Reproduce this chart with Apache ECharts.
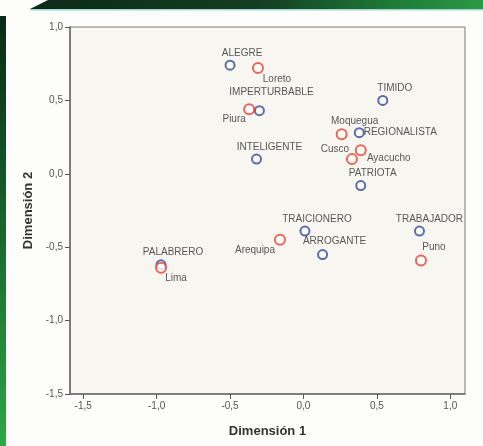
<!DOCTYPE html>
<html>
<head>
<meta charset="utf-8">
<script src="https://cdn.jsdelivr.net/npm/echarts@6/dist/echarts.min.js"></script>
<style>
html,body{margin:0;padding:0;background:#fdfdfb;}
#chart{width:483px;height:446px;}
</style>
</head>
<body>
<div id="chart"></div>
<script>
// Attribute points (blue)
var attrNames = ['ALEGRE','IMPERTURBABLE','INTELIGENTE','TIMIDO','REGIONALISTA','PATRIOTA','TRAICIONERO','ARROGANTE','TRABAJADOR','PALABRERO'];
var attrDim1  = [-0.50, -0.30, -0.32, 0.54, 0.38, 0.39, 0.01, 0.13, 0.79, -0.97];
var attrDim2  = [ 0.74,  0.43,  0.10, 0.50, 0.28, -0.08, -0.39, -0.55, -0.39, -0.62];

// Region points (red)
var regionNames = ['Loreto','Piura','Moquegua','Ayacucho','Cusco','Arequipa','Puno','Lima'];
var regionDim1  = [-0.31, -0.37, 0.26, 0.39, 0.33, -0.16, 0.80, -0.97];
var regionDim2  = [ 0.72,  0.44, 0.27, 0.16, 0.10, -0.45, -0.59, -0.64];

// Tick labels
var tickValues = [-1.5, -1.0, -0.5, 0.0, 0.5, 1.0];

// Label placement (text centre offset from marker, px) - layout only
var labelOffsets = {
  'ALEGRE':[12,-12], 'IMPERTURBABLE':[12,-18], 'INTELIGENTE':[13,-12], 'TIMIDO':[12,-12],
  'REGIONALISTA':[41,0], 'PATRIOTA':[12,-12], 'TRAICIONERO':[12,-12], 'ARROGANTE':[12,-13],
  'TRABAJADOR':[10,-12], 'PALABRERO':[12,-13],
  'Loreto':[19,11], 'Piura':[-15,10], 'Moquegua':[13,-13], 'Ayacucho':[28,8],
  'Cusco':[-17,-10], 'Arequipa':[-25,10], 'Puno':[13,-13], 'Lima':[15,10]
};

function fmt(v){ return v.toFixed(1).replace('.', ','); }

function buildData(names, xs, ys){
  return names.map(function(n, i){
    return {name:n, value:[xs[i], ys[i]], label:{offset:labelOffsets[n]}};
  });
}

var labelStyle = {show:true, position:'inside', formatter:'{b}', color:'#2e2e2e',
  fontFamily:'Liberation Sans, Arial, sans-serif', fontSize:10};

var chart = echarts.init(document.getElementById('chart'), null, {renderer:'canvas'});
chart.setOption({
  animation:false,
  backgroundColor:'#fdfdfb',
  graphic:[
    {type:'polygon', shape:{points:[[48,0],[483,0],[483,9],[30,9]]},
      style:{fill:new echarts.graphic.LinearGradient(0,0,1,0,[{offset:0,color:'#0c2a18'},{offset:0.5,color:'#133d22'},{offset:0.8,color:'#1f7a36'},{offset:1,color:'#2a9a45'}])}},
    {type:'rect', shape:{x:30,y:9,width:453,height:1.5}, style:{fill:'#9fd6d6'}},
    {type:'rect', shape:{x:0,y:16,width:6,height:430},
      style:{fill:new echarts.graphic.LinearGradient(0,0,0,1,[{offset:0,color:'#0b2a17'},{offset:0.4,color:'#145a2a'},{offset:1,color:'#2ea844'}])}}
  ],
  grid:{left:70, right:18, top:27, bottom:52, show:true, backgroundColor:'#f7f6f1', borderColor:'#7a7a7a', borderWidth:1},
  xAxis:{
    type:'value', min:-1.59, max:1.10,
    name:'Dimensión 1', nameLocation:'middle', nameGap:31,
    nameTextStyle:{fontFamily:'Liberation Sans, Arial, sans-serif', fontSize:13, fontWeight:'bold', color:'#333'},
    axisLine:{show:true, onZero:false, lineStyle:{color:'#6a6a6a', width:1.5}},
    axisTick:{show:true, length:5, inside:false, customValues:tickValues, lineStyle:{color:'#555'}},
    axisLabel:{customValues:tickValues, formatter:fmt, color:'#555', fontSize:10, margin:7,
      fontFamily:'Liberation Sans, Arial, sans-serif'},
    splitLine:{show:false}
  },
  yAxis:{
    type:'value', min:-1.5, max:1.0, interval:0.5,
    name:'Dimensión 2', nameLocation:'middle', nameGap:30,
    nameTextStyle:{fontFamily:'Liberation Sans, Arial, sans-serif', fontSize:13, fontWeight:'bold', color:'#333'},
    axisLine:{show:true, onZero:false, lineStyle:{color:'#6a6a6a', width:1.5}},
    axisTick:{show:true, length:5, lineStyle:{color:'#555'}},
    axisLabel:{formatter:fmt, color:'#555', fontSize:10, margin:7,
      fontFamily:'Liberation Sans, Arial, sans-serif'},
    splitLine:{show:false}
  },
  series:[
    {type:'scatter', name:'Atributos', symbol:'emptyCircle', symbolSize:9,
      itemStyle:{color:'#2f4b98', borderColor:'#2f4b98', borderWidth:2},
      label:labelStyle, data:buildData(attrNames, attrDim1, attrDim2)},
    {type:'scatter', name:'Regiones', symbol:'emptyCircle', symbolSize:10,
      itemStyle:{color:'#e2412f', borderColor:'#e2412f', borderWidth:2},
      label:labelStyle, data:buildData(regionNames, regionDim1, regionDim2)}
  ]
});
</script>
</body>
</html>
